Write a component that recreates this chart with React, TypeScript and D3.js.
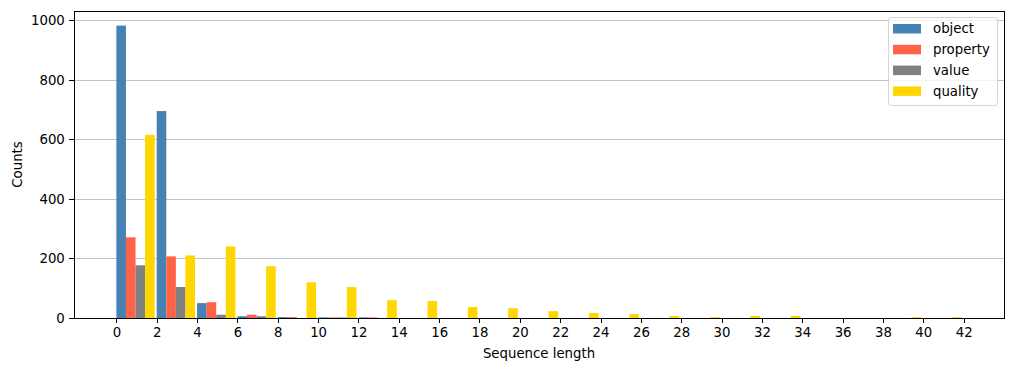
import React, { useEffect, useRef } from "react";
import * as d3 from "d3";

// bin starts (width 2) of the sequence length histogram
const binStarts = [0, 2, 4, 6, 8, 10, 12, 14, 16, 18, 20, 22, 24, 26, 28, 30, 32, 34, 36, 38, 40];

const objectCounts = [982, 695, 50, 6, 3, 2, 2, 0, 0, 0, 0, 0, 0, 0, 0, 0, 0, 0, 0, 0, 0];
const propertyCounts = [271, 207, 53, 11, 3, 2, 2, 0, 0, 0, 0, 0, 0, 0, 0, 0, 0, 0, 0, 0, 0];
const valueCounts = [177, 104, 11, 6, 0, 2, 0, 0, 0, 0, 0, 0, 0, 0, 0, 0, 0, 0, 0, 0, 0];
const qualityCounts = [615, 210, 240, 174, 120, 104, 60, 57, 37, 33, 23, 17, 13, 7, 3, 7, 7, 0, 0, 3, 3];

const seriesNames = ["object", "property", "value", "quality"];
const seriesColors = ["#4682B4", "#FF6347", "#808080", "#FFD700"];
const xTicks = d3.range(0, 43, 2);
const yTicks = [0, 200, 400, 600, 800, 1000];

export default function App() {
  const ref = useRef<SVGSVGElement>(null);

  useEffect(() => {
    const width = 1014;
    const height = 371;
    const margin = { top: 11, right: 10, bottom: 53, left: 74 };
    const font = "DejaVu Sans, sans-serif";
    const px = (v: number) => Math.round(v) + 0.5;

    const svg = d3.select(ref.current);
    svg.selectAll("*").remove();

    const x = d3
      .scaleLinear()
      .domain([-2.1, 44.0])
      .range([margin.left, width - margin.right]);

    const y = d3
      .scaleLinear()
      .domain([0, 1031])
      .range([height - margin.bottom, margin.top]);

    // grid
    svg
      .append("g")
      .selectAll("line")
      .data(yTicks)
      .enter()
      .append("line")
      .attr("x1", margin.left)
      .attr("x2", width - margin.right)
      .attr("y1", (d) => px(y(d)))
      .attr("y2", (d) => px(y(d)))
      .attr("stroke", "#c4c4c4")
      .attr("stroke-width", 1);

    const all = [objectCounts, propertyCounts, valueCounts, qualityCounts];
    const barW = 0.475;

    all.forEach((counts, i) => {
      svg
        .append("g")
        .selectAll("rect")
        .data(counts.map((c, j) => ({ start: binStarts[j], c })))
        .enter()
        .filter((d) => d.c > 0)
        .append("rect")
        .attr("x", (d) => x(d.start + i * barW))
        .attr("width", (d) => x(d.start + (i + 1) * barW) - x(d.start + i * barW))
        .attr("y", (d) => y(d.c))
        .attr("height", (d) => y(0) - y(d.c))
        .attr("fill", seriesColors[i]);
    });

    // axes
    const xAxis = svg
      .append("g")
      .attr("transform", `translate(0,${px(height - margin.bottom) - 0.5})`)
      .call(d3.axisBottom(x).tickValues(xTicks).tickSize(4.7).tickPadding(4.5));
    const yAxis = svg
      .append("g")
      .attr("transform", `translate(${px(margin.left) - 0.5},0)`)
      .call(
        d3
          .axisLeft(y)
          .tickValues(yTicks)
          .tickFormat(d3.format("d"))
          .tickSize(4.7)
          .tickPadding(4.5)
      );

    [xAxis, yAxis].forEach((a) => {
      a.select(".domain").remove();
      a.selectAll("line").attr("stroke", "#000").attr("stroke-width", 1).attr("shape-rendering", "crispEdges");
      a.selectAll("text").attr("font-family", font).attr("font-size", 13.3).attr("fill", "#000");
    });

    // frame
    svg
      .append("rect")
      .attr("x", px(margin.left))
      .attr("y", px(margin.top))
      .attr("width", Math.round(width - margin.right - margin.left))
      .attr("height", Math.round(height - margin.bottom - margin.top))
      .attr("fill", "none")
      .attr("stroke", "#000")
      .attr("stroke-width", 1);

    svg
      .append("text")
      .attr("x", (margin.left + width - margin.right) / 2)
      .attr("y", 358)
      .attr("text-anchor", "middle")
      .attr("font-family", font)
      .attr("font-size", 13.3)
      .text("Sequence length");

    svg
      .append("text")
      .attr("transform", `translate(22,${(margin.top + height - margin.bottom) / 2}) rotate(-90)`)
      .attr("text-anchor", "middle")
      .attr("font-family", font)
      .attr("font-size", 13.3)
      .text("Counts");

    // legend
    const lg = svg.append("g").attr("transform", "translate(888,17)");
    lg.append("rect")
      .attr("x", 0.5)
      .attr("y", 0.5)
      .attr("width", 109)
      .attr("height", 88)
      .attr("rx", 3)
      .attr("fill", "#fff")
      .attr("fill-opacity", 0.8)
      .attr("stroke", "#d5d5d5")
      .attr("stroke-width", 1);
    seriesNames.forEach((name, i) => {
      const cy = 11.5 + i * 20.8;
      lg.append("rect")
        .attr("x", 5)
        .attr("y", cy - 4.5)
        .attr("width", 28)
        .attr("height", 9.5)
        .attr("fill", seriesColors[i]);
      lg.append("text")
        .attr("x", 45)
        .attr("y", cy)
        .attr("dy", "0.35em")
        .attr("font-family", font)
        .attr("font-size", 13.3)
        .text(name);
    });
  }, []);

  return <svg ref={ref} width={1014} height={371} style={{ display: "block", position: "absolute", left: 0, top: 0 }} />;
}
